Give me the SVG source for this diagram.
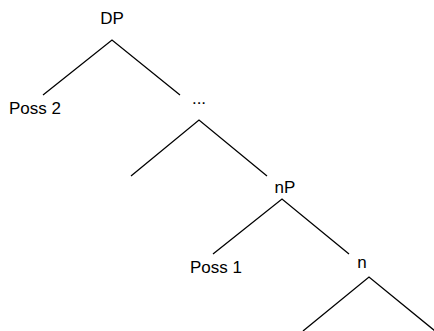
<svg xmlns="http://www.w3.org/2000/svg" width="434" height="331" viewBox="0 0 434 331">
<style>
  text { font-family: "Liberation Sans", Arial, sans-serif; font-size: 17px; fill: #000; }
  .edge { stroke: #000; stroke-width: 1.3; fill: none; stroke-linecap: butt; }
</style>
<rect width="434" height="331" fill="#fff"/>
<g id="connectors">
  <polyline class="edge" points="43,95 112,40 180,95"/>
  <polyline class="edge" points="131,176 199,120 267,176"/>
  <polyline class="edge" points="213,254 282,199 349,254"/>
  <polyline class="edge" points="303,331 369,277 435,331"/>
</g>
<g id="node-DP"><text x="112" y="24" text-anchor="middle">DP</text></g>
<g id="node-Poss2"><text x="9" y="114">Poss 2</text></g>
<g id="node-dots"><text x="199" y="104" text-anchor="middle">...</text></g>
<g id="node-nP"><text x="285" y="193" text-anchor="middle">nP</text></g>
<g id="node-Poss1"><text x="190" y="273">Poss 1</text></g>
<g id="node-n"><text x="362" y="268" text-anchor="middle">n</text></g>
</svg>
